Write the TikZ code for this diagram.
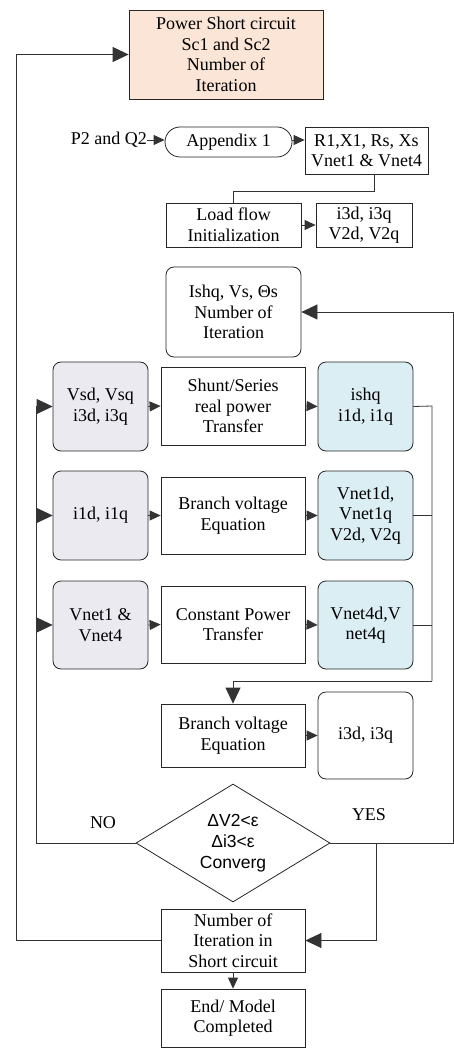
\documentclass[tikz,border=0pt]{standalone}
\usepackage{fontspec}
\setmainfont{Liberation Serif}
\newfontfamily\arialf{Liberation Sans}
\usetikzlibrary{arrows.meta,shapes.geometric,calc}
\definecolor{peach}{HTML}{FBE5D6}
\definecolor{lav}{HTML}{ECEAF1}
\definecolor{lblue}{HTML}{DBEEF4}
\begin{document}
\begin{tikzpicture}[x=1pt,y=-1pt,
  box/.style={draw=black!85, line width=0.8pt, align=center, inner sep=0pt,
    font=\fontsize{18}{20.5}\selectfont},
  rbox/.style={box, rounded corners=8pt},
  wh/.style 2 args={minimum width=#1pt, minimum height=#2pt},
  ln/.style={draw=black!80, line width=0.8pt},
  arr/.style={ln, -{Triangle[length=16pt,width=15pt]}},
  sarr/.style={ln, -{Triangle[length=11pt,width=10pt]}},
  lbl/.style={font=\fontsize{18}{20.5}\selectfont, inner sep=0pt}]
\useasboundingbox (0,0) rectangle (454,1048);

% nodes
\node[box, fill=peach, wh={194}{89}] (top) at (226,54.5)
  {Power Short circuit\\Sc1 and Sc2\\Number of\\Iteration};
\node[lbl, anchor=east] (p2) at (147,140) {P2 and Q2};
\node[box, rounded corners=15pt, wh={127}{30}] (app) at (228.5,142) {Appendix 1};
\node[box, wh={123}{47}] (rx) at (366.5,150.5) {R1,X1, Rs, Xs\\Vnet1 \& Vnet4};
\node[box, wh={135}{44}] (load) at (233.5,225) {Load flow\\Initialization};
\node[box, wh={96}{44}] (iv) at (364,225) {i3d, i3q\\V2d, V2q};
\node[rbox, wh={135}{90}] (ishq) at (233.5,312) {Ishq, Vs, \symbol{"0398}s\\Number of\\Iteration};

\node[rbox, fill=lav, wh={95}{89}] (l1) at (100.5,406.5) {Vsd, Vsq\\i3d, i3q};
\node[box, wh={144}{78}] (m1) at (233,406) {Shunt/Series\\real power\\Transfer};
\node[rbox, fill=lblue, wh={95}{89}] (r1) at (365.5,406.5) {ishq\\i1d, i1q};

\node[rbox, fill=lav, wh={95}{89}] (l2) at (100.5,515.5) {i1d, i1q};
\node[box, wh={144}{77}] (m2) at (233,515.5) {Branch voltage\\Equation};
\node[rbox, fill=lblue, wh={95}{89}] (r2) at (365.5,515.5) {Vnet1d,\\Vnet1q\\V2d, V2q};

\node[rbox, fill=lav, wh={95}{88}] (l3) at (100.5,625) {Vnet1 \&\\Vnet4};
\node[box, wh={144}{77}] (m3) at (233,624.5) {Constant Power\\Transfer};
\node[rbox, fill=lblue, wh={95}{88}] (r3) at (365.5,625) {Vnet4d,V\\net4q};

\node[box, wh={144}{63}] (bv) at (233,735.5) {Branch voltage\\Equation};
\node[rbox, wh={95}{87}] (i3) at (365.5,735.5) {i3d, i3q};

\node[draw=black!85, line width=0.8pt, shape=diamond, inner sep=0pt, shape aspect=1.64,
  minimum width=194pt, minimum height=118pt, align=center,
  font=\arialf\fontsize{17.5}{21}\selectfont] (dia) at (233,843)
  {ΔV2<ε\\Δi3<ε\\Converg};
\node[lbl] (no) at (103,823) {NO};
\node[lbl] (yes) at (369,815) {YES};

\node[box, wh={144}{63}] (nit) at (233,940.5) {Number of\\Iteration in\\Short circuit};
\node[box, wh={144}{58}] (end) at (233,1018) {End/ Model\\Completed};

% coordinates
\coordinate (lft) at (16,940.5);
\coordinate (nob) at (36,843);
\coordinate (yesR) at (453.5,843);
\coordinate (yesD) at (376,843);
\coordinate (col) at (432,406);
\coordinate (colb) at (432,681);
\coordinate (rxd) at (374,174);

% connectors
\draw[arr] (nit.west) -- (lft) |- (top.west);
\draw[sarr] (p2.east) -- (app.west |- p2.east);
\draw[sarr] (app.east |- p2.east) -- (rx.west |- p2.east);
\draw[ln] (rxd) -- ++(0,17) -| (load.north);
\draw[sarr] (load.east) -- (iv.west);
\draw[arr] (dia.east) -- (yesR) |- (ishq.east);
\draw[arr] (yesD) |- (nit.east);
\draw[ln] (dia.west) -- (nob) -- (nob |- l1.west);
\draw[arr] (nob |- l1.west) -- (l1.west);
\draw[arr] (nob |- l2.west) -- (l2.west);
\draw[arr] (nob |- l3.west) -- (l3.west);
\draw[sarr] (l1.east) -- (m1.west);
\draw[sarr] (m1.east) -- (r1.west);
\draw[sarr] (l2.east) -- (m2.west);
\draw[sarr] (m2.east) -- (r2.west);
\draw[sarr] (l3.east) -- (m3.west);
\draw[sarr] (m3.east) -- (r3.west);
\draw[ln] (r1.east) -- (col) -- (colb);
\draw[ln] (r2.east) -- (col |- r2.east);
\draw[ln] (r3.east) -- (col |- r3.east);
\draw[arr] (colb) -| (bv.north);
\draw[sarr] (bv.east) -- (i3.west);
\draw[sarr] (nit.south) -- (end.north);
\end{tikzpicture}
\end{document}
